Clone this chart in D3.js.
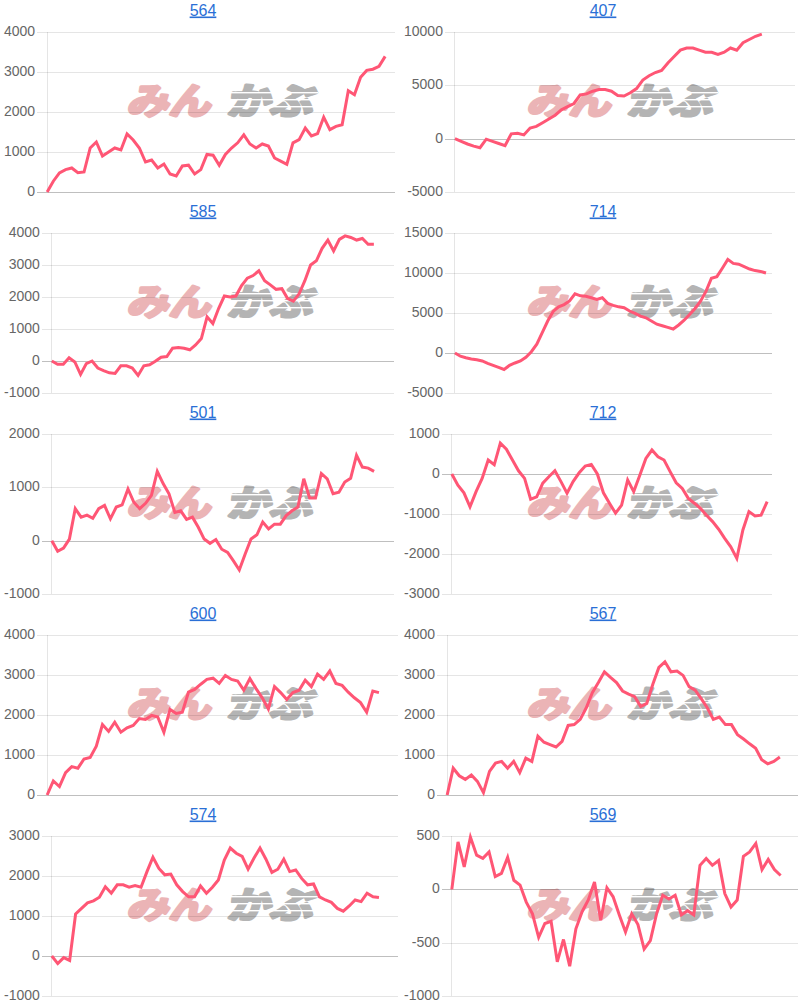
<!DOCTYPE html>
<html><head><meta charset="utf-8">
<script src="https://cdn.jsdelivr.net/npm/d3@7"></script>
<style>
html,body{margin:0;padding:0;background:#fff;}
svg{display:block;}
</style></head>
<body>
<svg id="c" width="800" height="1003"></svg>
<script>
// ---- data ----
const titles = ["564","407","585","714","501","712","600","567","574","569"];

const s564 = [0,270,480,560,600,480,500,1100,1250,900,1000,1100,1050,1450,1300,1100,750,800,600,700,450,400,650,670,450,560,940,920,670,940,1100,1230,1430,1200,1100,1200,1150,850,770,690,1230,1310,1600,1400,1460,1870,1560,1640,1680,2530,2430,2870,3040,3070,3140,3390];
const s407 = [0,-250,-500,-700,-850,-50,-250,-450,-650,450,500,350,1000,1150,1500,1850,2200,2700,3000,3300,4100,4200,4450,4600,4600,4450,4050,4000,4300,4700,5500,5900,6200,6400,7100,7700,8300,8500,8500,8300,8100,8100,7900,8100,8500,8300,9000,9300,9600,9800];
const s585 = [0,-100,-100,100,-30,-420,-80,0,-220,-300,-370,-390,-150,-150,-220,-450,-150,-120,-10,120,140,400,420,400,350,500,700,1380,1170,1640,2030,2000,2030,2360,2590,2670,2820,2510,2380,2240,2260,1950,1870,2100,2510,3000,3130,3520,3780,3440,3800,3910,3860,3780,3830,3650,3650];
const s714 = [0,-400,-600,-750,-850,-1000,-1300,-1550,-1800,-2060,-1550,-1250,-1000,-530,160,1100,2550,4000,5200,5770,6050,6500,7400,7150,7100,6900,6700,6900,6200,5950,5770,5650,5250,4950,4600,4400,4000,3600,3400,3200,3000,3500,4100,4800,5560,6470,7700,9350,9550,10600,11700,11200,11100,10800,10500,10300,10200,10000];
const s501 = [0,-200,-140,30,600,440,480,420,600,660,410,630,670,970,720,600,700,850,1300,1070,880,530,560,400,440,250,30,-50,20,-160,-220,-380,-550,-250,30,110,350,220,310,310,470,560,630,1160,800,800,1260,1160,880,910,1100,1170,1600,1380,1360,1300];
const s712 = [0,-280,-470,-820,-440,-110,350,230,770,620,350,80,-110,-630,-570,-230,-70,80,-190,-480,-190,30,200,240,0,-470,-730,-980,-780,-150,-440,-30,390,600,430,350,60,-220,-360,-610,-730,-860,-1030,-1190,-1380,-1610,-1820,-2110,-1400,-940,-1050,-1030,-690];
const s600 = [0,350,210,560,710,670,900,940,1220,1760,1590,1820,1570,1680,1740,1910,1890,1990,1950,1570,2140,2040,2070,2570,2640,2770,2890,2920,2790,2990,2890,2850,2620,2910,2660,2430,2150,2710,2560,2390,2560,2620,2870,2710,3020,2890,3100,2790,2740,2570,2430,2310,2070,2600,2560];
const s567 = [0,670,480,390,500,340,60,590,800,840,670,840,560,920,840,1470,1320,1260,1200,1340,1740,1760,1890,2180,2560,2810,3080,2940,2810,2600,2520,2460,2210,2290,2770,3190,3330,3080,3100,2990,2710,2620,2410,2180,1890,1950,1760,1760,1510,1400,1280,1170,880,780,840,950];
const s574 = [0,-190,-40,-110,1050,1190,1330,1380,1470,1730,1570,1780,1780,1720,1760,1720,2110,2470,2190,2030,2050,1780,1610,1480,1480,1750,1570,1720,1900,2400,2700,2570,2490,2170,2450,2700,2420,2090,2170,2420,2110,2150,1940,1780,1800,1480,1400,1340,1190,1120,1250,1400,1360,1570,1480,1460];
const s569 = [0,445,210,490,320,290,350,120,150,300,85,40,-120,-230,-450,-320,-300,-680,-470,-720,-370,-210,-100,70,-290,15,-70,-240,-400,-230,-330,-560,-480,-230,-55,-90,-55,-240,-200,-240,225,290,225,270,-40,-165,-100,310,350,430,185,280,185,130];

// total x slots of each chart's period (line stops before the right edge)
const xSlots = [56.6, 54.3, 59.5, 58.1, 58.4, 52.8, 57.1, 58, 58.2, 55.8];

const ticks564 = [0,1000,2000,3000,4000];
const ticks407 = [-5000,0,5000,10000];
const ticks585 = [-1000,0,1000,2000,3000,4000];
const ticks714 = [-5000,0,5000,10000,15000];
const ticks501 = [-1000,0,1000,2000];
const ticks712 = [-3000,-2000,-1000,0,1000];
const ticks600 = [0,1000,2000,3000,4000];
const ticks567 = [0,1000,2000,3000,4000];
const ticks574 = [-1000,0,1000,2000,3000];
const ticks569 = [-1000,-500,0,500];

const seriesList = [s564,s407,s585,s714,s501,s712,s600,s567,s574,s569];
const tickList = [ticks564,ticks407,ticks585,ticks714,ticks501,ticks712,ticks600,ticks567,ticks574,ticks569];

// ---- layout ----
const plotRights = [395,795,394,772,394,772,398,798,398,798];
const rowStep = 201, plotTopOffset = 32, plotH = 160;
const labelFont = "14px 'Liberation Sans', Arial, sans-serif";
const lineColor = "#ff5675";

const svg = d3.select("#c");
svg.append("rect").attr("width",800).attr("height",1003).attr("fill","#fff");

// measure label widths
const meas = svg.append("text").style("font", labelFont);
function textW(s){ meas.text(s); return meas.node().getComputedTextLength(); }

seriesList.forEach((vals, i) => {
  const col = i % 2, row = Math.floor(i / 2);
  const colX = col * 400;
  const top = plotTopOffset + row * rowStep;
  const bottom = top + plotH;
  const ticks = tickList[i];
  const maxW = d3.max(ticks, t => textW(String(t)));
  const left = colX + 4 + maxW + 2 + 10;
  const right = plotRights[i];

  const g = svg.append("g");

  // title
  g.append("text")
    .attr("x", colX + 203).attr("y", row * rowStep + 15.5)
    .attr("text-anchor","middle")
    .style("font","16px 'Liberation Sans', Arial, sans-serif")
    .style("text-decoration","underline")
    .attr("fill","#2a6fd6")
    .text(titles[i]);

  // watermark
  const wm = g.append("g").attr("transform", `translate(${colX}, ${top})`);
  wm.append("text")
    .attr("x", 126).attr("y", 82)
    .attr("transform","skewX(-12) translate(18,0)")
    .attr("textLength", 84).attr("lengthAdjust","spacingAndGlyphs")
    .style("font","bold 36px 'Noto Sans CJK JP', sans-serif")
    .attr("fill","#ebb4b6").attr("stroke","#ebb4b6").attr("stroke-width",3.2)
    .attr("stroke-linejoin","round")
    .text("みん");
  wm.append("text")
    .attr("x", 226).attr("y", 82)
    .attr("transform","skewX(-12) translate(18,0)")
    .attr("textLength", 86).attr("lengthAdjust","spacingAndGlyphs")
    .style("font","bold 36px 'Noto Sans CJK JP', sans-serif")
    .attr("fill","#b4b4b4").attr("stroke","#b4b4b4").attr("stroke-width",3.2)
    .attr("stroke-linejoin","round")
    .text("かぶ");
  [60, 67, 74].forEach(yy => {
    wm.append("rect").attr("x", 222).attr("y", yy).attr("width", 96).attr("height", 1.4).attr("fill","#fff");
  });

  const y = d3.scaleLinear().domain(d3.extent(ticks)).range([bottom, top]);
  const x = d3.scaleLinear().domain([0, xSlots[i]]).range([left, right]);

  // y axis with gridlines
  const ax = g.append("g")
    .attr("transform", `translate(${left - 10},0)`)
    .call(d3.axisLeft(y).tickValues(ticks).tickFormat(d => String(d))
      .tickSizeInner(-(right - left + 10)).tickSizeOuter(0).tickPadding(2));
  ax.select(".domain").remove();
  ax.selectAll(".tick line")
    .attr("stroke", d => d === 0 ? "rgba(0,0,0,0.25)" : "rgba(0,0,0,0.1)")
    .attr("shape-rendering","crispEdges");
  ax.selectAll(".tick text")
    .attr("dy", null).attr("y", 3.5)
    .attr("fill","#666")
    .style("font", labelFont);

  // left axis border
  g.append("line")
    .attr("x1", left).attr("x2", left).attr("y1", top).attr("y2", bottom)
    .attr("stroke","rgba(0,0,0,0.1)").attr("shape-rendering","crispEdges");

  // series line
  g.append("path")
    .datum(vals)
    .attr("fill","none")
    .attr("stroke", lineColor)
    .attr("stroke-width", 3)
    .attr("stroke-linejoin","miter")
    .attr("d", d3.line().x((d, k) => x(k)).y(d => y(d)));
});
meas.remove();
</script>
</body></html>
